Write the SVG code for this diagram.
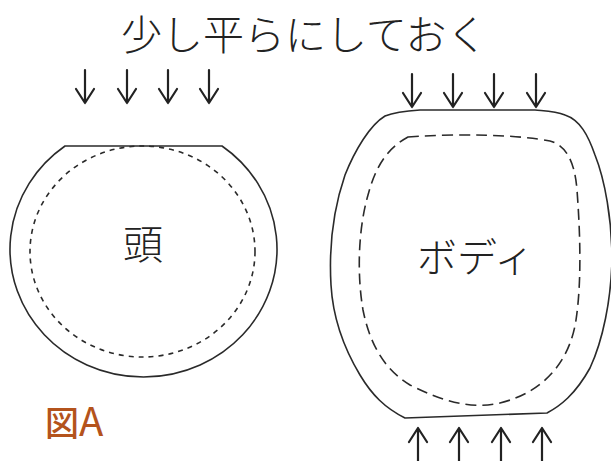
<svg xmlns="http://www.w3.org/2000/svg" xmlns:xlink="http://www.w3.org/1999/xlink" width="611" height="461" viewBox="0 0 611 461">
<style>
.jp{font-family:"Noto Sans CJK JP","Noto Sans CJK SC",sans-serif;fill:#222;font-weight:300}
.outline{fill:none;stroke:#2a2a2a;stroke-width:1.6;stroke-linejoin:round}
.dashh{fill:none;stroke:#2a2a2a;stroke-width:1.6;stroke-dasharray:5 5}
.dashb{fill:none;stroke:#2a2a2a;stroke-width:1.6;stroke-dasharray:11 6}
.arrow{fill:none;stroke:#222;stroke-width:2.2;stroke-linecap:round;stroke-linejoin:round}
.fig{font-family:"Noto Sans CJK JP","Noto Sans CJK SC",sans-serif;fill:#b4531c;font-weight:500}
</style>
<defs>
<path id="down" d="M0 0 V33 M-9 19 L0 33 L9 19"/>
</defs>
<rect width="611" height="461" fill="#fff"/>
<g id="title"><text class="jp" x="121" y="50" font-size="41">少し平らにしておく</text></g>
<g id="head">
<path class="outline" d="M65 146 L222 146 A133.5 127.7 0 1 1 65 146 Z"/>
<ellipse class="dashh" cx="142.5" cy="251.5" rx="112.5" ry="105.5"/>
<text class="jp" x="123" y="259" font-size="40">頭</text>
</g>
<g id="body">
<path class="outline" d="M405 418 L547 413 C560 406 575 395 590 368 C603 340 611 300 612 260 C612 220 605 180 595 155 C588 135 580 120 565 115 C555 111 545 111 535 110 L420 110 C405 111 395 112 385 116 C370 125 355 150 345 175 C333 210 329 250 331 285 C333 320 345 350 360 375 C372 395 385 408 405 418 Z"/>
<path class="dashb" d="M408 137 C460 133 520 135 550 141 C568 146 575 165 577 190 C580 230 582 280 576 320 C570 360 545 392 500 403 C470 410 440 400 410 385 C385 370 370 345 363 310 C357 275 358 230 368 195 C376 165 388 148 408 137 Z"/>
<text class="jp" x="417" y="272" font-size="40">ボディ</text>
</g>
<g id="figure-label"><text class="fig" x="45" y="436" font-size="34">図<tspan font-size="40" font-weight="400">A</tspan></text></g>
<g id="connectors" class="arrow">
<use xlink:href="#down" transform="translate(85 70)"/>
<use xlink:href="#down" transform="translate(127 70)"/>
<use xlink:href="#down" transform="translate(168 70)"/>
<use xlink:href="#down" transform="translate(209 70)"/>
<use xlink:href="#down" transform="translate(412 74)"/>
<use xlink:href="#down" transform="translate(453 74)"/>
<use xlink:href="#down" transform="translate(494 74)"/>
<use xlink:href="#down" transform="translate(536 74)"/>
<path d="M418 428 V465 M409 442 L418 428 L427 442"/>
<path d="M459 428 V465 M450 442 L459 428 L468 442"/>
<path d="M501 428 V465 M492 442 L501 428 L510 442"/>
<path d="M542 428 V465 M533 442 L542 428 L551 442"/>
</g>
</svg>
